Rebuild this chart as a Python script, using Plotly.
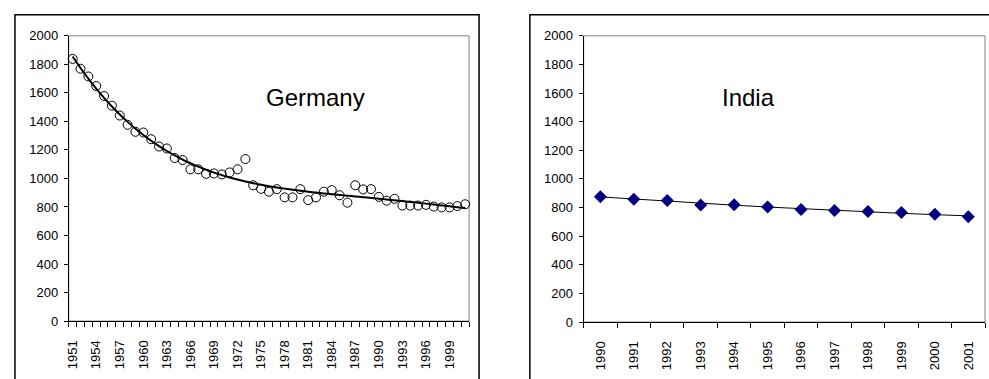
import numpy as np
import plotly.graph_objects as go

# Germany, 1951-2001
germany_years = list(range(1951, 2002))
germany_values = [
    1838, 1769, 1715, 1648, 1578, 1510, 1441, 1376, 1327, 1322,
    1275, 1224, 1210, 1143, 1129, 1064, 1064, 1032, 1035, 1028,
    1042, 1064, 1136, 952, 927, 907, 925, 867, 867, 925,
    848, 867, 907, 918, 882, 830, 952, 923, 925, 871,
    844, 857, 810, 810, 810, 815, 803, 797, 797, 806,
    819,
]

# India, 1990-2001
india_years = list(range(1990, 2002))
india_values = [876, 858, 850, 818, 820, 804, 786, 780, 773, 766, 753, 735]

y_ticks = list(range(0, 2001, 200))
germany_tick_labels = list(range(1951, 2000, 3))

W, H = 989, 379
FONT = "Liberation Sans, Arial, sans-serif"


def px_x(v):
    return v / W


def px_y(v):
    return 1 - v / H


# plot-area pixel boxes (left, top, right, bottom)
g_box = (65, 30, 467, 327)
i_box = (582, 30, 985, 328)

# polynomial trend lines fitted on category index
gi = np.arange(1, len(germany_values) + 1)
g_fit = np.polyval(np.polyfit(gi, germany_values, 4), gi)
ii = np.arange(1, len(india_values) + 1)
i_fit = np.polyval(np.polyfit(ii, india_values, 2), ii)

fig = go.Figure()

fig.add_trace(go.Scatter(
    x=germany_years, y=germany_values, mode="markers",
    marker=dict(symbol="circle-open", size=9, color="black", line=dict(width=1)),
    xaxis="x", yaxis="y", showlegend=False, cliponaxis=False,
))
fig.add_trace(go.Scatter(
    x=germany_years, y=g_fit, mode="lines",
    line=dict(color="black", width=2, shape="spline"),
    xaxis="x", yaxis="y", showlegend=False,
))
fig.add_trace(go.Scatter(
    x=india_years, y=i_fit, mode="lines",
    line=dict(color="black", width=1),
    xaxis="x2", yaxis="y2", showlegend=False,
))
fig.add_trace(go.Scatter(
    x=india_years, y=india_values, mode="markers",
    marker=dict(symbol="diamond", size=10, color="#000080"),
    xaxis="x2", yaxis="y2", showlegend=False,
))

tick_font = dict(family=FONT, size=13, color="black")

common_y = dict(
    range=[0, 2000], tickvals=y_ticks, ticks="outside", ticklen=4,
    ticklabelstandoff=3,
    tickcolor="black", showline=True, linecolor="black", linewidth=1,
    showgrid=False, zeroline=False, tickfont=tick_font,
)
common_x = dict(
    showline=True, linecolor="black", linewidth=1, showgrid=False,
    zeroline=False, tickangle=-90, tickfont=tick_font,
    ticks="outside", ticklen=13, tickcolor="rgba(0,0,0,0)",
    minor=dict(ticks="outside", ticklen=5, tickcolor="black", dtick=1),
)

fig.update_layout(
    width=W, height=H,
    margin=dict(l=0, r=0, t=0, b=0),
    paper_bgcolor="white", plot_bgcolor="white",
    xaxis=dict(
        domain=[px_x(g_box[0]), px_x(g_box[2])],
        range=[1950.5, 2001.5], tickvals=germany_tick_labels,
        anchor="y", **common_x,
    ),
    yaxis=dict(domain=[px_y(g_box[3]), px_y(g_box[1])], anchor="x", **common_y),
    xaxis2=dict(
        domain=[px_x(i_box[0]), px_x(i_box[2])],
        range=[1989.5, 2001.5], tickvals=india_years,
        anchor="y2", **common_x,
    ),
    yaxis2=dict(domain=[px_y(i_box[3]), px_y(i_box[1])], anchor="x2", **common_y),
)
fig.layout.xaxis.minor.tick0 = 1950.5
fig.layout.xaxis2.minor.tick0 = 1989.5

shapes = []
# grey plot-area borders
for box in (g_box, i_box):
    shapes.append(dict(
        type="rect", xref="paper", yref="paper", layer="below",
        x0=px_x(box[0]), x1=px_x(box[2]), y0=px_y(box[3]), y1=px_y(box[1]),
        line=dict(color="#808080", width=1),
    ))
# outer chart frames
shapes.append(dict(
    type="rect", xref="paper", yref="paper",
    x0=px_x(11), x1=px_x(477), y0=px_y(H + 10), y1=px_y(8),
    line=dict(color="black", width=1.5),
))
shapes.append(dict(
    type="rect", xref="paper", yref="paper",
    x0=px_x(528), x1=px_x(W + 10), y0=px_y(H + 10), y1=px_y(8),
    line=dict(color="black", width=1.5),
))
fig.update_layout(shapes=shapes)

title_font = dict(family="Liberation Sans Narrow, Arial Narrow, " + FONT, size=24, color="black")
fig.add_annotation(text="Germany", xref="paper", yref="paper",
                   x=px_x(313), y=px_y(94), xanchor="center", yanchor="middle",
                   showarrow=False, font=title_font)
fig.add_annotation(text="India", xref="paper", yref="paper",
                   x=px_x(748), y=px_y(94), xanchor="center", yanchor="middle",
                   showarrow=False, font=title_font)

fig.write_html("out.html")
